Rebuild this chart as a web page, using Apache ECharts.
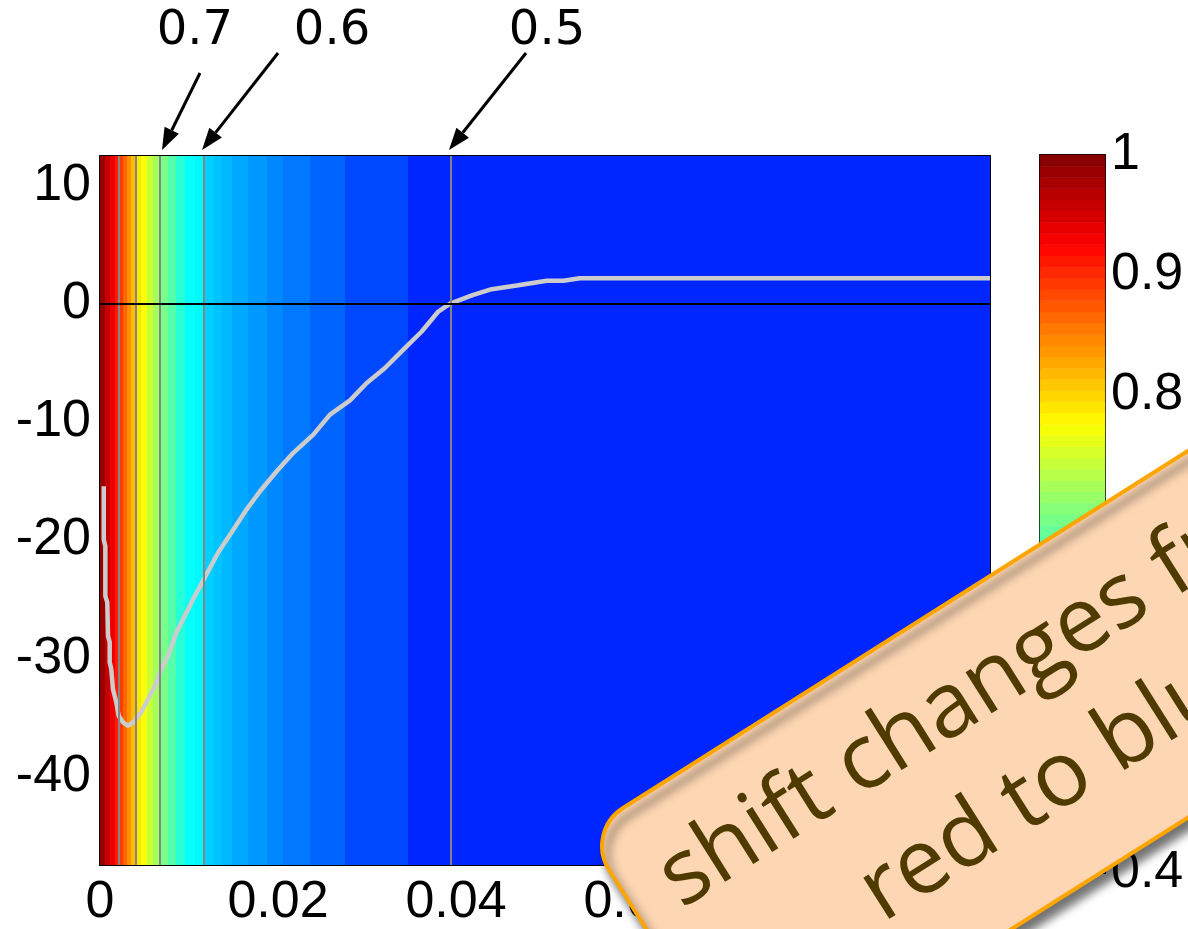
<!DOCTYPE html>
<html>
<head>
<meta charset="utf-8">
<script src="https://cdn.jsdelivr.net/npm/echarts@6/dist/echarts.min.js"></script>
<style>
  html, body { margin: 0; padding: 0; background: #ffffff; }
  #chart { width: 1188px; height: 929px; }
</style>
</head>
<body>
<div id="chart"></div>
<script>
// ---- data -------------------------------------------------------------
// Column edges of the colour map along x
const bandEdges = [0, 0.00056, 0.00112, 0.00169, 0.00213, 0.00258, 0.00303, 0.00348,
  0.00404, 0.00461, 0.00528, 0.00596, 0.00674, 0.00764, 0.00854, 0.00955, 0.01067,
  0.0118, 0.01281, 0.01371, 0.01483, 0.01663, 0.01876, 0.02056, 0.0236, 0.02753,
  0.03461, 0.1];
// Colour value of each column (between consecutive edges)
const bandValues = [0.985, 0.96, 0.935, 0.91, 0.89, 0.865, 0.84, 0.815, 0.79, 0.77,
  0.745, 0.72, 0.695, 0.675, 0.648, 0.628, 0.621, 0.597, 0.59, 0.583, 0.574, 0.565,
  0.555, 0.546, 0.534, 0.517, 0.497];

// Contour positions and their levels
const contourLevels = [0.9, 0.8, 0.7, 0.6, 0.5];
const contourX = [0.00213, 0.00404, 0.00674, 0.01169, 0.03944];
const labelledLevels = ['0.7', '0.6', '0.5'];

// Shift curve
const curveX = [0.00042, 0.00042, 0.0006, 0.0006, 0.00082, 0.0009, 0.00109, 0.00109,
  0.00127, 0.00146, 0.00183, 0.0021, 0.00258, 0.00315, 0.0039, 0.00464, 0.00539,
  0.00615, 0.00689, 0.00764, 0.00857, 0.00952, 0.01064, 0.01176, 0.01326, 0.01475,
  0.01646, 0.01798, 0.01985, 0.02172, 0.02397, 0.02584, 0.02809, 0.02997, 0.03202,
  0.03408, 0.03615, 0.03801, 0.03933, 0.04194, 0.04401, 0.04682, 0.05019, 0.05206,
  0.05393, 0.05618, 0.1];
const curveY = [-15.45, -19.95, -20.52, -24.74, -25.28, -28.12, -28.66, -30.35,
  -30.94, -32.63, -33.73, -34.88, -35.42, -35.73, -35.31, -34.57, -33.47,
  -32.35, -30.94, -29.81, -27.84, -26.43, -24.74, -23.19, -21.08, -19.39,
  -17.42, -15.87, -14.18, -12.62, -11.08, -9.39, -8.18, -6.71, -5.44,
  -3.89, -2.35, -0.66, 0.0, 0.75, 1.23, 1.54, 1.94, 1.94,
  2.16, 2.16, 2.16];

// Axis ranges and ticks
const xMin = 0, xMax = 0.1, xStep = 0.02;
const yMin = -47.5, yMax = 12.5;
const yTicks = [-40, -30, -20, -10, 0, 10];
const cbMin = 0.4, cbMax = 1, cbStep = 0.1;

// Note text
const noteLines = ['shift changes from', 'red to blue'];

// ---- styling ------------------------------------------------------------
const jet = ['#000080', '#0000ff', '#0080ff', '#00ffff', '#80ff80',
             '#ffff00', '#ff8000', '#ff0000', '#800000'];
const tickFont = '"Liberation Sans", Arial, sans-serif';
const tickSize = 52;

const bandData = bandValues.map((v, i) => [bandEdges[i], bandEdges[i + 1], v]);

// 64-step colour scale for the colour bar
const cbLevels = 64;
const colorbarCells = [];
for (let i = 0; i < cbLevels; i++) {
  const lo = cbMin + (cbMax - cbMin) * i / cbLevels;
  const hi = cbMin + (cbMax - cbMin) * (i + 1) / cbLevels;
  colorbarCells.push([lo, hi, (lo + hi) / 2]);
}

const blackLine = { show: true, onZero: false, lineStyle: { color: '#000', width: 2 } };
const inTick = (extra) => Object.assign({ show: true, inside: true, length: 8,
  lineStyle: { color: '#000', width: 2 } }, extra || {});
const tickLabel = (extra) => Object.assign({ color: '#000', fontFamily: tickFont,
  fontSize: tickSize }, extra || {});

const chart = echarts.init(document.getElementById('chart'));

chart.setOption({
  animation: false,
  backgroundColor: '#ffffff',
  grid: [
    { left: 100, top: 156, width: 890, height: 710 },
    { left: 1040, top: 155, width: 65, height: 718 }
  ],
  visualMap: {
    type: 'continuous', show: false, min: cbMin, max: cbMax, dimension: 2,
    seriesIndex: [0, 4], inRange: { color: jet }
  },
  xAxis: [
    { gridIndex: 0, type: 'value', position: 'bottom', min: xMin, max: xMax, interval: xStep,
      axisLine: blackLine, axisTick: inTick(), splitLine: { show: false },
      axisLabel: tickLabel({ margin: 12 }) },
    { gridIndex: 0, type: 'value', position: 'top', min: xMin, max: xMax, interval: xStep,
      axisLine: blackLine, axisTick: inTick(), splitLine: { show: false },
      axisLabel: { show: false } },
    { gridIndex: 1, type: 'value', position: 'bottom', min: 0, max: 1,
      axisLine: blackLine, axisTick: { show: false }, splitLine: { show: false },
      axisLabel: { show: false } },
    { gridIndex: 1, type: 'value', position: 'top', min: 0, max: 1,
      axisLine: blackLine, axisTick: { show: false }, splitLine: { show: false },
      axisLabel: { show: false } }
  ],
  yAxis: [
    { gridIndex: 0, type: 'value', position: 'left', min: yMin, max: yMax,
      axisLine: blackLine, axisTick: inTick({ customValues: yTicks }),
      splitLine: { show: false },
      axisLabel: tickLabel({ margin: 9, customValues: yTicks }) },
    { gridIndex: 0, type: 'value', position: 'right', min: yMin, max: yMax,
      axisLine: blackLine, axisTick: inTick({ customValues: yTicks }),
      splitLine: { show: false }, axisLabel: { show: false, customValues: yTicks } },
    { gridIndex: 1, type: 'value', position: 'right', min: cbMin, max: cbMax, interval: cbStep,
      axisLine: blackLine, axisTick: inTick(), splitLine: { show: false },
      axisLabel: tickLabel({ margin: 6 }) },
    { gridIndex: 1, type: 'value', position: 'left', min: cbMin, max: cbMax, interval: cbStep,
      axisLine: blackLine, axisTick: inTick(), splitLine: { show: false },
      axisLabel: { show: false } }
  ],
  series: [
    { // colour-mapped columns
      type: 'custom', xAxisIndex: 0, yAxisIndex: 0, z: 1, clip: true,
      encode: { x: [0, 1] },
      data: bandData,
      renderItem: function (params, api) {
        const a = api.coord([api.value(0), yMax]);
        const b = api.coord([api.value(1), yMin]);
        const x0 = Math.round(a[0]), x1 = Math.round(b[0]);
        return { type: 'rect',
          shape: { x: x0, y: a[1], width: x1 - x0, height: b[1] - a[1] },
          style: { fill: api.visual('color') } };
      }
    },
    { // contour lines
      type: 'line', xAxisIndex: 0, yAxisIndex: 0, data: [], z: 2,
      markLine: { silent: true, precision: 6, symbol: ['none', 'none'], label: { show: false },
        lineStyle: { color: '#858585', width: 2, type: 'solid' },
        data: contourX.map(x => ({ xAxis: x })) }
    },
    { // zero line
      type: 'line', xAxisIndex: 0, yAxisIndex: 0, data: [], z: 3,
      markLine: { silent: true, precision: 6, symbol: ['none', 'none'], label: { show: false },
        lineStyle: { color: '#000', width: 2, type: 'solid' },
        data: [{ yAxis: 0 }] }
    },
    { // shift curve
      type: 'line', xAxisIndex: 0, yAxisIndex: 0, z: 4, symbol: 'none',
      lineStyle: { color: '#cccccc', width: 4.5 },
      data: curveX.map((x, i) => [x, curveY[i]])
    },
    { // colour bar
      type: 'custom', xAxisIndex: 2, yAxisIndex: 2, z: 1,
      encode: { y: [0, 1] },
      data: colorbarCells,
      renderItem: function (params, api) {
        const a = api.coord([0, api.value(1)]);
        const b = api.coord([1, api.value(0)]);
        return { type: 'rect',
          shape: { x: a[0], y: a[1], width: b[0] - a[0], height: b[1] - a[1] },
          style: { fill: api.visual('color'), stroke: api.visual('color'), lineWidth: 0.6 } };
      }
    }
  ]
});

// ---- annotations: arrows to labelled contours, and the note box ----------
const arrowLayout = [
  { textDx: 35, textY: 32, startDx: 40, startY: 73, tipDx: 2 },
  { textDx: 128, textY: 32, startDx: 74, startY: 53, tipDx: -2 },
  { textDx: 96, textY: 32, startDx: 75, startY: 53, tipDx: -2 }
];
const graphics = [];
labelledLevels.forEach((lab, k) => {
  const idx = contourLevels.indexOf(parseFloat(lab));
  const top = chart.convertToPixel({ xAxisIndex: 0, yAxisIndex: 0 }, [contourX[idx], yMax]);
  const L = arrowLayout[k];
  const tip = [top[0] + L.tipDx, top[1] - 6];
  const start = [top[0] + L.startDx, L.startY];
  const dx = tip[0] - start[0], dy = tip[1] - start[1];
  const len = Math.hypot(dx, dy), ux = dx / len, uy = dy / len;
  const headLen = 22, headHalf = 8;
  const base = [tip[0] - ux * headLen, tip[1] - uy * headLen];
  graphics.push({ type: 'line', z: 50,
    shape: { x1: start[0], y1: start[1], x2: base[0], y2: base[1] },
    style: { stroke: '#000', lineWidth: 3 } });
  graphics.push({ type: 'polygon', z: 50,
    shape: { points: [tip, [base[0] - uy * headHalf, base[1] + ux * headHalf],
                           [base[0] + uy * headHalf, base[1] - ux * headHalf]] },
    style: { fill: '#000' } });
  graphics.push({ type: 'text', z: 50, x: top[0] + L.textDx, y: L.textY,
    style: { text: lab, fill: '#000', font: '48px "DejaVu Sans"',
             align: 'center', verticalAlign: 'middle' } });
});

// Tilted note box
const noteFont = '91px "Open Sans"';
graphics.push({
  type: 'group', x: 585, y: 832, rotation: 32.3 * Math.PI / 180, z: 100,
  children: [
    { type: 'rect', z: 100,
      shape: { x: 0, y: 0, width: 1000, height: 310, r: 45 },
      style: { fill: '#fdd6b3', stroke: '#ffa500', lineWidth: 4,
               shadowBlur: 10, shadowOffsetX: 5, shadowOffsetY: 8,
               shadowColor: 'rgba(0,0,0,0.55)' } },
    { type: 'text', z: 101, x: 435, y: 91,
      style: { text: noteLines[0], fill: '#4f3b00', font: noteFont,
               align: 'center', verticalAlign: 'middle' } },
    { type: 'text', z: 101, x: 435, y: 210,
      style: { text: noteLines[1], fill: '#4f3b00', font: noteFont,
               align: 'center', verticalAlign: 'middle' } }
  ]
});

chart.setOption({ graphic: graphics });
</script>
</body>
</html>
